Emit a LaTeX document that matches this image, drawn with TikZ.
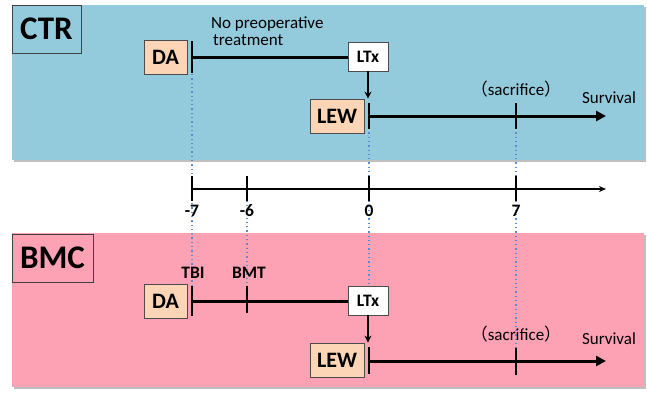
\documentclass[tikz,border=0pt]{standalone}
\usepackage{fontspec}
\setmainfont{Carlito}
\newfontfamily\cjk{Noto Sans CJK JP}
\usetikzlibrary{arrows.meta}
\definecolor{panelblue}{HTML}{93CADC}
\definecolor{panelpink}{HTML}{FDA1B4}
\definecolor{peach}{HTML}{FBD5B5}
\definecolor{dotblue}{HTML}{5B8BD0}
\tikzset{
  titlebox/.style={draw=black!75, line width=0.9pt, inner sep=0pt, font=\fontsize{33}{35}\selectfont\bfseries},
  strainbox/.style={draw=black!70, fill=peach, line width=0.8pt, inner sep=0pt, minimum height=34pt, font=\fontsize{22}{24}\selectfont\bfseries},
  ltxbox/.style={draw=black!70, fill=white, line width=0.8pt, inner sep=0pt, minimum width=40pt, minimum height=29pt, font=\fontsize{17.5}{19}\selectfont\bfseries},
  tl/.style={line width=3pt},
  tk/.style={line width=2pt},
  dotline/.style={draw=dotblue, line width=1.5pt, dash pattern=on 1.3pt off 3pt},
  lbl/.style={font=\fontsize{17.5}{19}\selectfont\bfseries, inner sep=0pt},
  txt/.style={font=\fontsize{17}{19}\selectfont, inner sep=0pt},
  arr/.style={-{Triangle[length=10pt,width=10pt]}},
  sarr/.style={-{Stealth[length=7pt,width=7pt]}, line width=1.5pt}
}
\begin{document}
\begin{tikzpicture}[x=1pt,y=-1pt]
\useasboundingbox (0,0) rectangle (647,392);
% panels
\fill[black!25] (13.5,6.5) rectangle (645.5,161.5);
\fill[panelblue] (12,5) rectangle (644,160);
\fill[black!25] (13.5,234.5) rectangle (645.5,388.5);
\fill[panelpink] (12,233) rectangle (644,387);

% ---------- dotted guides ----------
\coordinate (d1a) at (192,74);  \coordinate (d1b) at (192,300);
\coordinate (d2a) at (247,196); \coordinate (d2b) at (247,290);
\coordinate (d3a) at (369,128); \coordinate (d3b) at (369,284);
\coordinate (d4a) at (516,128); \coordinate (d4b) at (516,350);
\draw[dotline] (d1a) -- (d1b);
\draw[dotline] (d2a) -- (d2b);
\draw[dotline] (d3a) -- (d3b);
\draw[dotline] (d4a) -- (d4b);

% ---------- CTR ----------
\node[titlebox, minimum width=69pt, minimum height=48pt] (ctr) at (46.5,29) {CTR};
\node[strainbox, minimum width=43pt] (da1) at (165.5,57) {DA};
\node[ltxbox] (ltx1) at (368,56.5) {LTx};
\node[strainbox, minimum width=54pt] (lew1) at (337,116) {LEW};
\node[txt, anchor=north west, align=left] (npt) at (211,17) {No preoperative\\[-2pt]\hspace{2pt}treatment};
\coordinate (c1t) at (192,41); \coordinate (c1b) at (192,73); \coordinate (c1m) at (192,57);
\draw[tk] (c1t) -- (c1b);
\draw[tl] (c1m) -- (ltx1.west |- c1m);
\draw[sarr] (ltx1.south) -- (lew1.north -| ltx1.south);
\coordinate (c2t) at (369,103); \coordinate (c2b) at (369,129); \coordinate (c2m) at (369,116);
\coordinate (c2e) at (606,116);
\draw[tk] (c2t) -- (c2b);
\draw[tl, arr] (c2m) -- (c2e);
\coordinate (s1t) at (516,103); \coordinate (s1b) at (516,129);
\draw[tk] (s1t) -- (s1b);
\node[txt] (sac1) at (516,89) {{\cjk （}sacrifice{\cjk ）}};
\node[txt] (sur1) at (609,98) {Survival};

% ---------- axis ----------
\coordinate (a0) at (192,189); \coordinate (aend) at (606,189);
\draw[line width=1.5pt, -{Stealth[length=7pt,width=6pt]}] (a0) -- (aend);
\foreach \x/\l/\n in {192/-7/m7, 247/-6/m6, 369/0/z, 516/7/p7}{
  \coordinate (t\n a) at (\x,176); \coordinate (t\n b) at (\x,201);
  \draw[tk] (t\n a) -- (t\n b);
  \node[lbl] (l\n) at (\x,211) {\l};
}

% ---------- BMC ----------
\node[titlebox, minimum width=81pt, minimum height=48pt] (bmc) at (52.5,258) {BMC};
\node[strainbox, minimum width=43pt] (da2) at (165.5,301) {DA};
\node[ltxbox] (ltx2) at (368,300.5) {LTx};
\node[strainbox, minimum width=54pt] (lew2) at (337,360) {LEW};
\node[lbl] (tbi) at (193,273) {TBI};
\node[lbl] (bmt) at (249,273) {BMT};
\coordinate (b1t) at (192,286); \coordinate (b1b) at (192,316); \coordinate (b1m) at (192,301);
\coordinate (b2t) at (247,286); \coordinate (b2b) at (247,313);
\draw[tk] (b1t) -- (b1b);
\draw[tk] (b2t) -- (b2b);
\draw[tl] (b1m) -- (ltx2.west |- b1m);
\draw[sarr] (ltx2.south) -- (lew2.north -| ltx2.south);
\coordinate (b3t) at (369,347); \coordinate (b3b) at (369,374); \coordinate (b3m) at (369,361);
\coordinate (b3e) at (606,361);
\draw[tk] (b3t) -- (b3b);
\draw[tl, arr] (b3m) -- (b3e);
\coordinate (s2t) at (516,348); \coordinate (s2b) at (516,375);
\draw[tk] (s2t) -- (s2b);
\node[txt] (sac2) at (516,334) {{\cjk （}sacrifice{\cjk ）}};
\node[txt] (sur2) at (609,339) {Survival};
\end{tikzpicture}
\end{document}
